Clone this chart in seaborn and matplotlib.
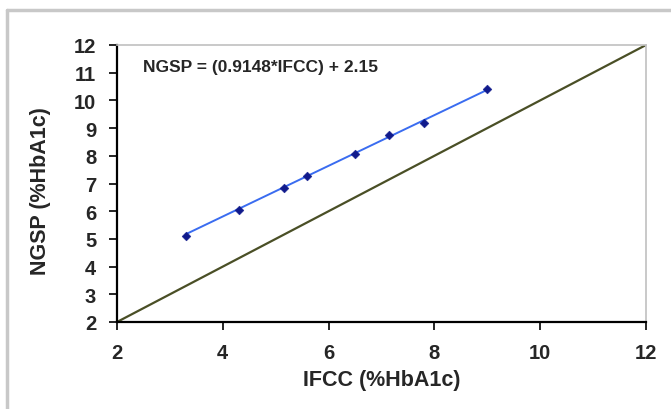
import numpy as np
import pandas as pd
import seaborn as sns
import matplotlib.pyplot as plt
from matplotlib.lines import Line2D

# values
ifcc = [3.3, 4.3, 5.15, 5.6, 6.5, 7.15, 7.8, 9.0]
ngsp = [5.1, 6.05, 6.85, 7.28, 8.07, 8.76, 9.18, 10.42]
slope = 0.9148
intercept = 2.15
identity = [2, 12]

sns.set_style("white")
plt.rcParams["font.family"] = ["Liberation Sans", "DejaVu Sans"]
plt.rcParams["font.weight"] = "bold"

df = pd.DataFrame({"IFCC": ifcc, "NGSP": ngsp})
fit_x = [min(ifcc), max(ifcc)]
fit = pd.DataFrame({"IFCC": fit_x, "NGSP": [slope * v + intercept for v in fit_x]})
diag = pd.DataFrame({"IFCC": identity, "NGSP": identity})

fig = plt.figure(figsize=(6.71, 4.10), dpi=100)
ax = fig.add_axes([117 / 671, 1 - 323 / 410, 529 / 671, 277 / 410])

sns.lineplot(data=diag, x="IFCC", y="NGSP", ax=ax, color="#4a4f26", lw=1.6)
sns.lineplot(data=fit, x="IFCC", y="NGSP", ax=ax, color="#3a6cf0", lw=1.4)
sns.scatterplot(data=df, x="IFCC", y="NGSP", ax=ax, color="#101a8c",
                marker="D", s=20, edgecolor="#101a8c", zorder=5)

ax.set_xlim(2, 12)
ax.set_ylim(2, 12)
ax.set_xticks([2, 4, 6, 8, 10, 12])
ax.set_yticks(range(2, 13))
ax.tick_params(axis="both", direction="out", length=6, width=1.2,
               color="black", labelsize=14.5, left=True, bottom=True)
ax.tick_params(axis="y", pad=9)
ax.tick_params(axis="x", pad=9)
for lab in ax.get_xticklabels() + ax.get_yticklabels():
    lab.set_fontweight("bold")

ax.set_xlabel("IFCC (%HbA1c)", fontsize=15.5, fontweight="bold", labelpad=5)
ax.set_ylabel("NGSP (%HbA1c)", fontsize=15.5, fontweight="bold")
ax.yaxis.set_label_coords(-0.125, 0.475)

for side in ["left", "bottom"]:
    ax.spines[side].set_color("black")
    ax.spines[side].set_linewidth(1.6)
for side in ["top", "right"]:
    ax.spines[side].set_color("#c0c0c0")
    ax.spines[side].set_linewidth(1.2)

ax.text(0.05, 0.95, "NGSP = (0.9148*IFCC) + 2.15", transform=ax.transAxes,
        fontsize=12.5, fontweight="bold", va="top", ha="left")

# grey outer frame of the chart object
fx = 6.5 / 671
fy = 1 - 10.5 / 410
fig.add_artist(Line2D([fx, fx], [0, fy], transform=fig.transFigure,
                      color="#c8c8c8", lw=2.5))
fig.add_artist(Line2D([fx, 1], [fy, fy], transform=fig.transFigure,
                      color="#c8c8c8", lw=2.5))

fig.savefig("out.png", dpi=100)
